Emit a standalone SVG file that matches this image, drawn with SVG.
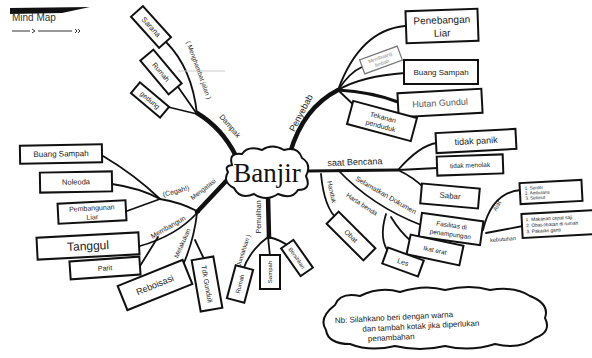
<svg xmlns="http://www.w3.org/2000/svg" width="592" height="358" viewBox="0 0 592 358">
<style>
.box{fill:#fff;stroke:#111;stroke-width:2}
.t{font-family:"Liberation Sans","DejaVu Sans",sans-serif;fill:#222;text-anchor:middle;dominant-baseline:central}
.lb{font-family:"Liberation Sans","DejaVu Sans",sans-serif;fill:#222;text-anchor:middle;dominant-baseline:central}
.c{fill:none;stroke:#111;stroke-linecap:round}
.thick{stroke-width:4.5}
.mid{stroke-width:3}
.thin{stroke-width:1.8}
</style>
<rect width="592" height="358" fill="#fff"/>

<!-- header -->
<g id="header">
  <polygon points="10,8 90,7 62,13 10,14" fill="#111"/>
  <text x="12" y="21" font-family="Liberation Sans, sans-serif" font-size="10" fill="#333">Mind Map</text>
  <path d="M12,31 H30 M38,31 H72" stroke="#333" stroke-width="1" fill="none"/>
  <path d="M32,29 L35,31 L32,33" stroke="#333" stroke-width="1" fill="none"/>
  <path d="M75,29 L77,31 L75,33 M78,29 L80,31 L78,33" stroke="#333" stroke-width="1" fill="none"/>
</g>

<!-- connectors -->
<g id="connectors">
  <path class="c thick" d="M236,156 Q222,128 197,113"/>
  <path class="c thick" d="M290,153 Q303,108 338,90"/>
  <path class="c mid" d="M308,171 L398,170"/>
  <path class="c thick" d="M229,178 L197,212"/>
  <path class="c thick" d="M268,196 L269,237"/>

  <path class="c thin" d="M197,114 Q192,68 166,42"/>
  <path class="c thin" d="M197,114 L176,84"/>
  <path class="c thin" d="M197,114 L168,107"/>
  <path d="M178,71 H225" stroke="#ccc" stroke-width="1" fill="none"/>

  <path class="c thin" d="M338,90 Q360,30 405,26"/>
  <path class="c thin" d="M338,90 Q350,72 362,67"/>
  <path class="c thin" d="M338,90 Q362,76 405,73"/>
  <path class="c mid" d="M338,90 Q372,92 398,102"/>
  <path class="c thin" d="M338,90 L359,110"/>

  <path class="c thin" d="M398,170 Q420,145 437,143"/>
  <path class="c thin" d="M398,170 L438,168"/>
  <path class="c thin" d="M398,170 Q415,178 425,189"/>

  <path class="c thin" d="M338,170 Q372,206 421,225"/>
  <path class="c thin" d="M386,214 Q378,240 390,254"/>
  <path class="c thin" d="M391,217 Q400,232 412,242"/>
  <path class="c thin" d="M483,230 Q492,192 521,190"/>
  <path class="c thin" d="M486,233 L523,226"/>

  <path class="c thin" d="M321,174 Q324,208 338,220"/>

  <path class="c thin" d="M199,212 Q180,202 160,199"/>
  <path class="c thin" d="M160,199 Q135,175 103,156"/>
  <path class="c thin" d="M160,199 Q140,188 112,184"/>
  <path class="c thin" d="M160,199 L127,211"/>
  <path class="c thin" d="M197,213 Q176,236 140,246"/>
  <path class="c thin" d="M158,237 L140,266"/>
  <path class="c thin" d="M197,213 Q194,240 183,265"/>
  <path class="c thin" d="M195,240 L204,259"/>

  <path class="c thin" d="M268,237 Q250,250 243,270"/>
  <path class="c thin" d="M268,237 L270,256"/>
  <path class="c thin" d="M268,237 Q282,240 291,248"/>
</g>

<!-- branch labels -->
<g id="labels">
  <text class="lb" font-size="7.5" transform="translate(230,126) rotate(50)">Dampak</text>
  <text class="lb" font-size="6.5" transform="translate(199,70) rotate(70)">( Menghambat jalan )</text>
  <text class="lb" font-size="9" transform="translate(301,113) rotate(-62)">Penyebab</text>
  <text class="lb" font-size="9" transform="translate(355,162) rotate(-2)">saat  Bencana</text>
  <text class="lb" font-size="7" transform="translate(386,195) rotate(30)">Selamatkan Dokumen</text>
  <text class="lb" font-size="6.5" transform="translate(362,204) rotate(33)">Harta benda</text>
  <text class="lb" font-size="6.5" transform="translate(332,192) rotate(78)">Handuk</text>
  <text class="lb" font-size="6" transform="translate(497,206) rotate(-62)">Alat</text>
  <text class="lb" font-size="5.5" transform="translate(503,239) rotate(-4)">kebutuhan</text>
  <text class="lb" font-size="6.5" transform="translate(203,189) rotate(-38)">Mengatasi</text>
  <text class="lb" font-size="7" transform="translate(176,191) rotate(-15)">(Cegah!)</text>
  <text class="lb" font-size="7" transform="translate(168,227) rotate(-30)">Membangun</text>
  <text class="lb" font-size="6.5" transform="translate(182,243) rotate(-66)">Melakukan</text>
  <text class="lb" font-size="7" transform="translate(258,217) rotate(-90)">Pemulihan</text>
  <text class="lb" font-size="6" transform="translate(243,252) rotate(-72)">( Jumlahkan )</text>
</g>

<!-- central node -->
<g id="n-banjir">
  <path d="M232,165 Q228,152 242,154 Q248,145 262,150 Q272,143 284,150 Q298,146 302,158 Q312,164 306,176 Q312,190 298,190 Q292,200 278,194 Q266,202 254,194 Q240,200 234,188 Q222,182 228,172 Q224,166 232,165 Z" fill="#fff" stroke="#111" stroke-width="2"/>
  <text x="267" y="173" font-family="Liberation Serif, serif" font-size="27" fill="#111" text-anchor="middle" dominant-baseline="central">Banjir</text>
</g>

<!-- Dampak -->
<g id="n-sarana" transform="translate(151,27) rotate(48)"><rect class="box" x="-21" y="-8" width="42" height="16"/><text class="t" font-size="7.5">Sarana</text></g>
<g id="n-rumah" transform="translate(161,72) rotate(50)"><rect class="box" x="-22" y="-8.5" width="44" height="17"/><text class="t" font-size="7">Rumah</text></g>
<g id="n-gedung" transform="translate(150,100) rotate(40)"><rect class="box" x="-19" y="-7" width="38" height="14"/><text class="t" font-size="7">gedung</text></g>

<!-- Penyebab -->
<g id="n-penebangan" transform="translate(442,26) rotate(-2)"><rect class="box" x="-36" y="-16" width="72" height="32"/><text class="t" font-size="10" y="-6">Penebangan</text><text class="t" font-size="10" y="7">Liar</text></g>
<g id="n-limbah" transform="translate(381,60) rotate(-20)"><rect x="-20" y="-7.5" width="40" height="15" fill="#fff" stroke="#777" stroke-width="1.2"/><text class="t" font-size="5" y="-3" style="fill:#888">Membuang</text><text class="t" font-size="5" y="3" style="fill:#888">limbah</text></g>
<g id="n-buang" transform="translate(441,72)"><rect class="box" x="-37" y="-12" width="74" height="24"/><text class="t" font-size="8">Buang  Sampah</text></g>
<g id="n-hutan" transform="translate(440,103) rotate(-3)"><rect class="box" x="-42" y="-12" width="84" height="24"/><text class="t" font-size="9" style="fill:#555">Hutan  Gundul</text></g>
<g id="n-tekanan" transform="translate(382,121) rotate(15)"><rect class="box" x="-33" y="-12" width="66" height="24"/><text class="t" font-size="7" y="-4">Tekanan</text><text class="t" font-size="7" y="5">penduduk</text></g>

<!-- saat Bencana -->
<g id="n-panik" transform="translate(476,141) rotate(-3)"><rect class="box" x="-40" y="-10" width="80" height="20"/><text class="t" font-size="9">tidak  panik</text></g>
<g id="n-menolak" transform="translate(470,165) rotate(-2)"><rect class="box" x="-33" y="-9.5" width="66" height="19"/><text class="t" font-size="6.5">tidak  menolak</text></g>
<g id="n-sabar" transform="translate(450,196) rotate(5)"><rect class="box" x="-29" y="-10" width="58" height="20"/><text class="t" font-size="8">Sabar</text></g>

<!-- Selamatkan -->
<g id="n-fasilitas" transform="translate(451,229) rotate(8)"><rect class="box" x="-31" y="-12" width="62" height="24"/><text class="t" font-size="6.5" y="-4">Fasilitas di</text><text class="t" font-size="6.5" y="5">penampungan</text></g>
<g id="n-ikat" transform="translate(435,250) rotate(12)"><rect class="box" x="-27" y="-10" width="54" height="20"/><text class="t" font-size="6.5">Ikat erat</text></g>
<g id="n-les" transform="translate(403,262) rotate(20)"><rect class="box" x="-19" y="-8.5" width="38" height="17"/><text class="t" font-size="7">Les</text></g>
<g id="n-alat" transform="translate(551,192) rotate(-3)"><rect class="box" x="-31" y="-10.5" width="62" height="21" stroke-width="1.5"/><text class="t" font-size="4.5" x="-26" y="-5" style="text-anchor:start">1. Senter</text><text class="t" font-size="4.5" x="-26" y="0" style="text-anchor:start">2. Ambulans</text><text class="t" font-size="4.5" x="-26" y="5" style="text-anchor:start">3. Selimut</text></g>
<g id="n-bahan" transform="translate(560,224) rotate(-3)"><rect class="box" x="-38" y="-12" width="80" height="24" stroke-width="1.5"/><text class="t" font-size="4.8" x="-34" y="-6" style="text-anchor:start">1. Makanan cepat saji</text><text class="t" font-size="4.8" x="-34" y="0" style="text-anchor:start">2. Obat-obatan di rumah</text><text class="t" font-size="4.8" x="-34" y="6" style="text-anchor:start">3. Pakaian ganti</text></g>

<!-- Obat -->
<g id="n-obat" transform="translate(351,236) rotate(45)"><rect class="box" x="-26" y="-8.5" width="52" height="17"/><text class="t" font-size="7">Obat</text></g>

<!-- Mengatasi -->
<g id="n-buang2" transform="translate(61,154) rotate(-1)"><rect class="box" x="-41" y="-9" width="82" height="18"/><text class="t" font-size="8">Buang  Sampah</text></g>
<g id="n-noleoda" transform="translate(76,182) rotate(-1)"><rect class="box" x="-36" y="-10" width="72" height="20"/><text class="t" font-size="7.5">Noleoda</text></g>
<g id="n-pembangunan" transform="translate(92,212) rotate(-3)"><rect class="box" x="-34" y="-10" width="68" height="20"/><text class="t" font-size="7" y="-4">Pembangunan</text><text class="t" font-size="7" y="5">Liar</text></g>
<g id="n-tanggul" transform="translate(88,246) rotate(-3)"><rect class="box" x="-51" y="-11" width="102" height="22"/><text class="t" font-size="12">Tanggul</text></g>
<g id="n-parit" transform="translate(105,268) rotate(-4)"><rect class="box" x="-35" y="-9" width="70" height="18"/><text class="t" font-size="7">Parit</text></g>
<g id="n-reboisasi" transform="translate(155,285) rotate(-22)"><rect class="box" x="-35" y="-13" width="70" height="26"/><text class="t" font-size="9">Reboisasi</text></g>
<g id="n-gunduli" transform="translate(207,284) rotate(80)"><rect class="box" x="-26" y="-11" width="52" height="22"/><text class="t" font-size="7">Tdk Gunduli</text></g>

<!-- Pemulihan -->
<g id="n-p1" transform="translate(240,284) rotate(-75)"><rect class="box" x="-17" y="-9" width="34" height="18"/><text class="t" font-size="6">Rumah</text></g>
<g id="n-p2" transform="translate(270,272) rotate(-90)"><rect class="box" x="-17" y="-10" width="34" height="20"/><text class="t" font-size="6">Sampah</text></g>
<g id="n-p3" transform="translate(297,258) rotate(55)"><rect class="box" x="-17" y="-7.5" width="34" height="15"/><text class="t" font-size="5.5">Bersihkan</text></g>

<!-- note -->
<g id="n-note">
  <path d="M335,305 Q340,292 360,296 Q380,286 400,292 Q425,284 445,290 Q470,284 490,290 Q515,286 530,296 Q550,304 545,318 Q552,332 535,338 Q520,350 495,344 Q470,352 445,346 Q420,352 395,346 Q370,352 350,344 Q328,344 326,330 Q318,318 335,305 Z" fill="#fff" stroke="#111" stroke-width="2"/>
  <g transform="rotate(-3 435 320)" font-family="Liberation Sans, sans-serif" font-size="8" fill="#222">
    <text x="335" y="318">Nb: Silahkano  beri  dengan  warna</text>
    <text x="362" y="328">dan  tambah  kotak  jika  diperlukan</text>
    <text x="367" y="338">penambahan</text>
  </g>
</g>
</svg>
